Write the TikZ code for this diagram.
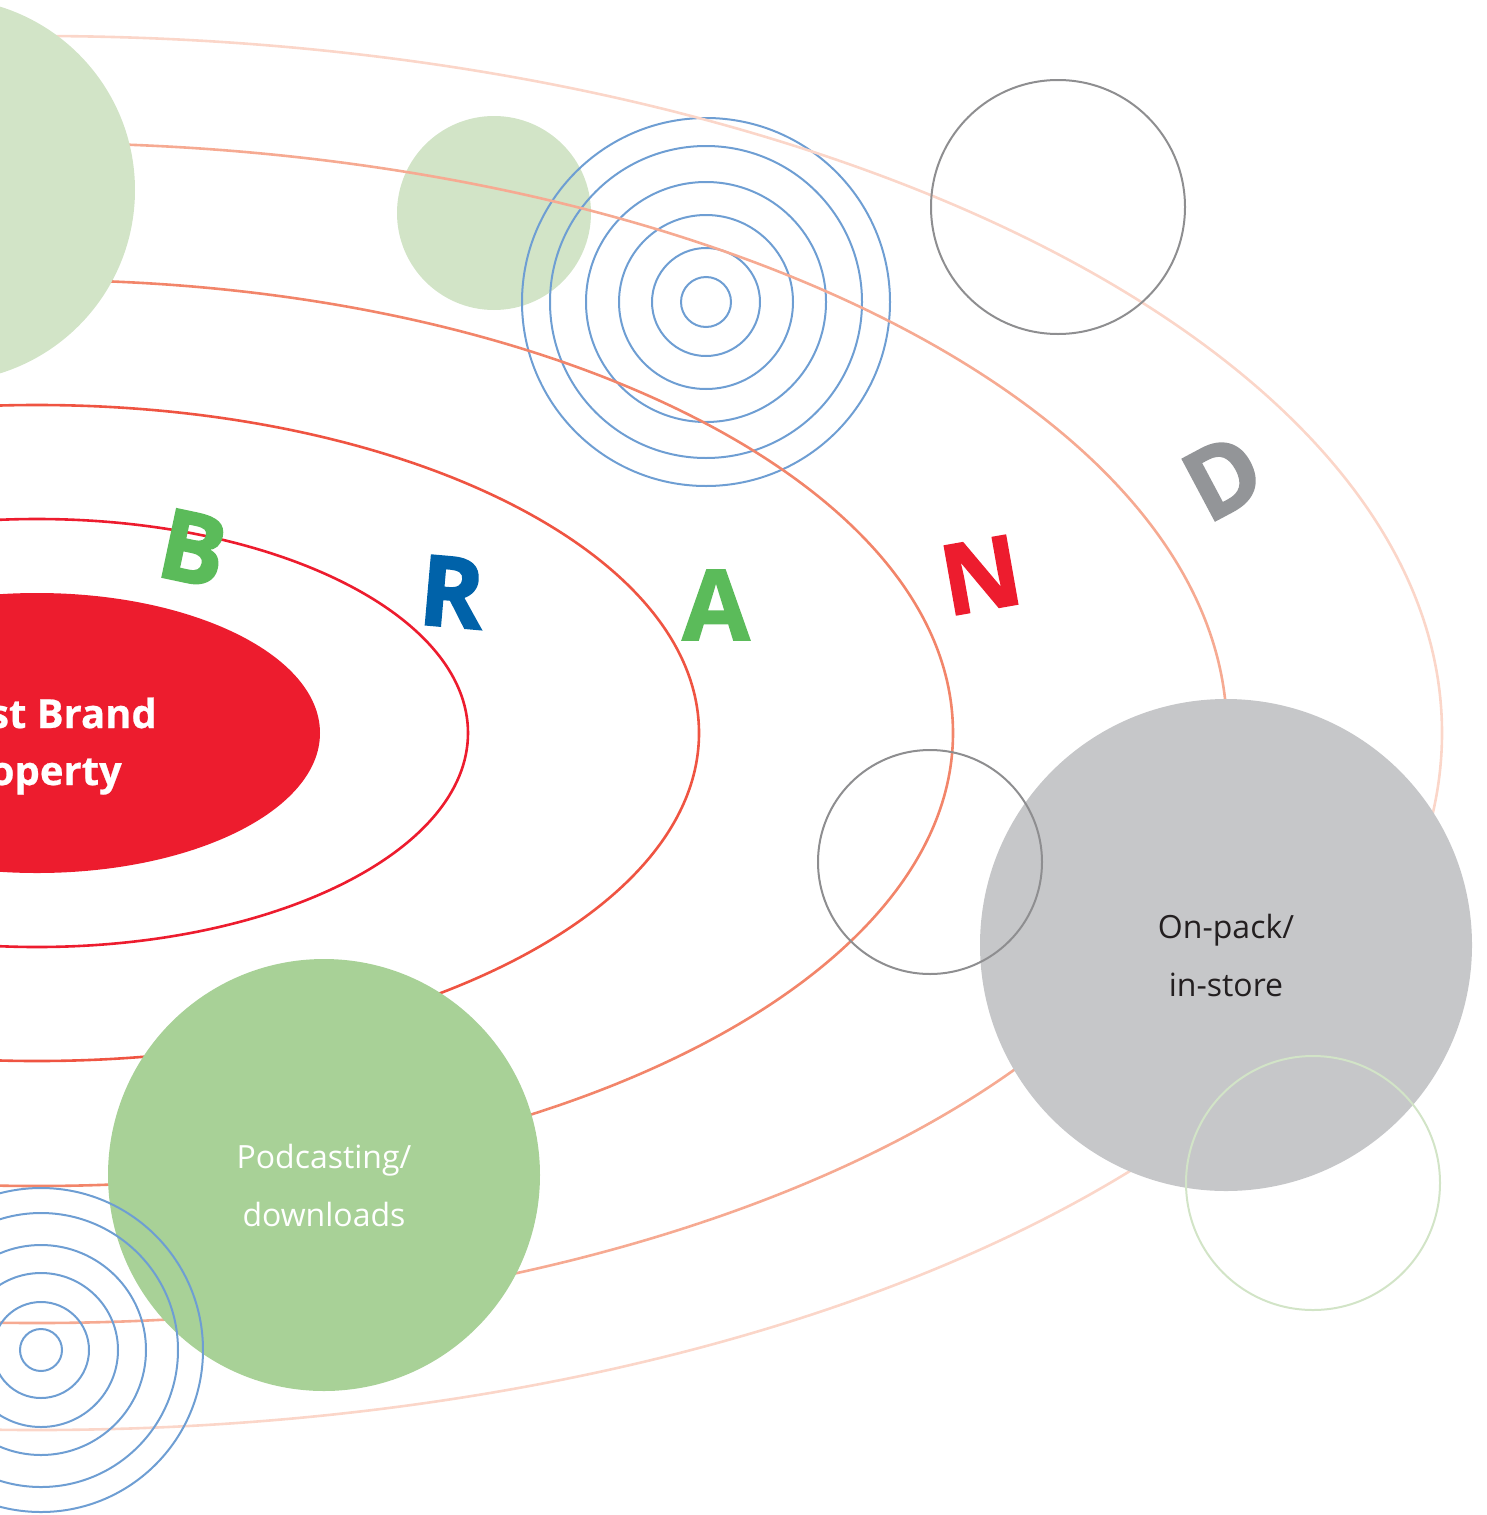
\documentclass[tikz,border=0pt]{standalone}
\usepackage{fontspec}
\setmainfont{Open Sans}
\newfontfamily\heavyfont{Open Sans}[FakeBold=1.6]
\newfontfamily\semiheavy{Open Sans}[FakeBold=0.6]
\definecolor{brandred}{HTML}{ED1C2E}
\definecolor{orbA}{HTML}{ED1C2E}
\definecolor{orbB}{HTML}{EF5442}
\definecolor{orbC}{HTML}{F2856A}
\definecolor{orbD}{HTML}{F6AA92}
\definecolor{orbE}{HTML}{FBD6C9}
\definecolor{ringblue}{HTML}{6E9ED3}
\definecolor{palegreen}{HTML}{D2E4C7}
\definecolor{midgreen}{HTML}{A8D197}
\definecolor{lettergreen}{HTML}{5BBB5A}
\definecolor{letterblue}{HTML}{0062A9}
\definecolor{lettergray}{HTML}{939598}
\definecolor{discgray}{HTML}{C6C7C9}
\definecolor{linegray}{HTML}{8E8E90}
\definecolor{textdark}{HTML}{231F20}
\begin{document}
\begin{tikzpicture}[x=1pt,y=-1pt,
  ring/.style={draw=ringblue, line width=2pt},
  orbit/.style={line width=2.6pt},
  letter/.style={font=\fontsize{98}{98}\heavyfont\bfseries, inner sep=0pt, anchor=center},
  disc/.style={circle, inner sep=0pt},
  lbl/.style={font=\fontsize{32}{32}\selectfont, inner sep=0pt, anchor=base},
  core/.style={font=\fontsize{40}{40}\semiheavy\bfseries, text=white, inner sep=0pt, anchor=base east}]
\useasboundingbox (0,0) rectangle (1487,1515);
\clip (0,0) rectangle (1487,1515);
% background discs
\fill[palegreen] (494,213) circle[radius=97pt];
\foreach \r in {25,54,87,120,156,184} \draw[ring] (706,302) circle[radius=\r pt];
% orbits
\draw[orbit, draw=orbE] (37,733) ellipse[x radius=1405pt, y radius=697pt];
\draw[orbit, draw=orbD] (37,733) ellipse[x radius=1190pt, y radius=590pt];
\draw[orbit, draw=orbC] (37,733) ellipse[x radius=916pt, y radius=453pt];
\draw[orbit, draw=orbB] (37,733) ellipse[x radius=662pt, y radius=328pt];
\draw[orbit, draw=orbA] (37,733) ellipse[x radius=431pt, y radius=214pt];
\fill[brandred] (37,733) ellipse[x radius=283pt, y radius=140pt];
\node[core] (core1) at (157,728) {st Brand};
\node[core] (core2) at (122,785) {operty};
% big top-left disc
\fill[palegreen] (-57,190) circle[radius=192pt];
% letters
\node[letter, text=lettergreen, rotate=-12] (B) at (193,548) {B};
\node[letter, text=letterblue, rotate=-5] (R) at (452,592) {R};
\node[letter, text=lettergreen] (A) at (716,605) {A};
\node[letter, text=brandred, rotate=10] (N) at (981,575) {N};
\node[letter, text=lettergray, rotate=28] (D) at (1223,477) {D};
% green disc
\node[disc, fill=midgreen, minimum size=432pt] (pod) at (324,1175) {};
\node[lbl, text=white] (pod1) at (324,1168) {Podcasting/};
\node[lbl, text=white] (pod2) at (324,1226) {downloads};
% gray disc
\node[disc, fill=discgray, minimum size=492pt] (pack) at (1226,945) {};
\node[lbl, text=textdark] (pack1) at (1226,938) {On-pack/};
\node[lbl, text=textdark] (pack2) at (1226,996) {in-store};
% outline circles
\draw[linegray, line width=2pt] (1058,207) circle[radius=127pt];
\draw[linegray, line width=2pt] (930,862) circle[radius=112pt];
\draw[palegreen, line width=2pt] (1313,1183) circle[radius=127pt];
% bottom-left rings
\foreach \r in {21,48,77,105,137,162} \draw[ring] (41,1350) circle[radius=\r pt];
\end{tikzpicture}
\end{document}
